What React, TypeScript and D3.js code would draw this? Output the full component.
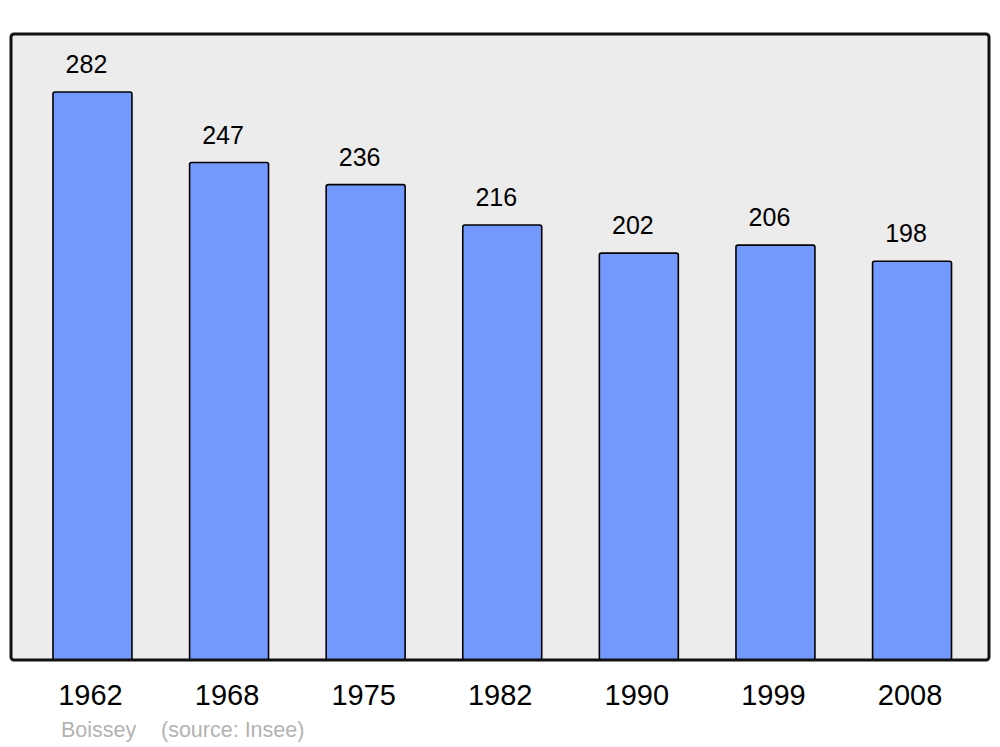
import React from "react";
import * as d3 from "d3";

const years = ["1962", "1968", "1975", "1982", "1990", "1999", "2008"];
const population = [282, 247, 236, 216, 202, 206, 198];
const commune = "Boissey";
const source = "(source: Insee)";

export default function App() {
  const W = 1000, H = 747;
  const panel = { x: 11, y: 34, w: 978, h: 626 };
  const x = d3.scaleBand<string>().domain(years).range([12, 992.5]).paddingInner(0.422).paddingOuter(0.3);
  const y = d3.scaleLinear().domain([0, 310.8]).range([panel.y + panel.h, panel.y]);
  const font = "'Liberation Sans', Arial, sans-serif";
  return (
    <svg width={W} height={H} style={{ position: "absolute", left: 0, top: 0, background: "#fff" }}>
      <rect x={panel.x} y={panel.y} width={panel.w} height={panel.h} rx={3} fill="#ececec" stroke="none" />
      {years.map((yr, i) => {
        const v = population[i];
        const bx = x(yr)!;
        const top = y(v);
        return (
          <g key={yr}>
            <rect x={bx} y={top} width={x.bandwidth()} height={y(0) - top} rx={2}
              fill="#7399ff" stroke="#000" strokeWidth={1.6} />
            <text x={bx + x.bandwidth() / 2 - 6} y={top - 19} textAnchor="middle" fontFamily={font} fontSize={25} fill="#000">{v}</text>
            <text x={bx + x.bandwidth() / 2 - 2} y={705} textAnchor="middle" fontFamily={font} fontSize={29} fill="#000">{yr}</text>
          </g>
        );
      })}
      <rect x={panel.x} y={panel.y} width={panel.w} height={panel.h} rx={3} fill="none" stroke="#111" strokeWidth={3} />
      <text x={61} y={737} fontFamily={font} fontSize={21.5} fill="#b3b3b3">{commune}</text>
      <text x={161} y={737} fontFamily={font} fontSize={21.5} fill="#b3b3b3">{source}</text>
    </svg>
  );
}
